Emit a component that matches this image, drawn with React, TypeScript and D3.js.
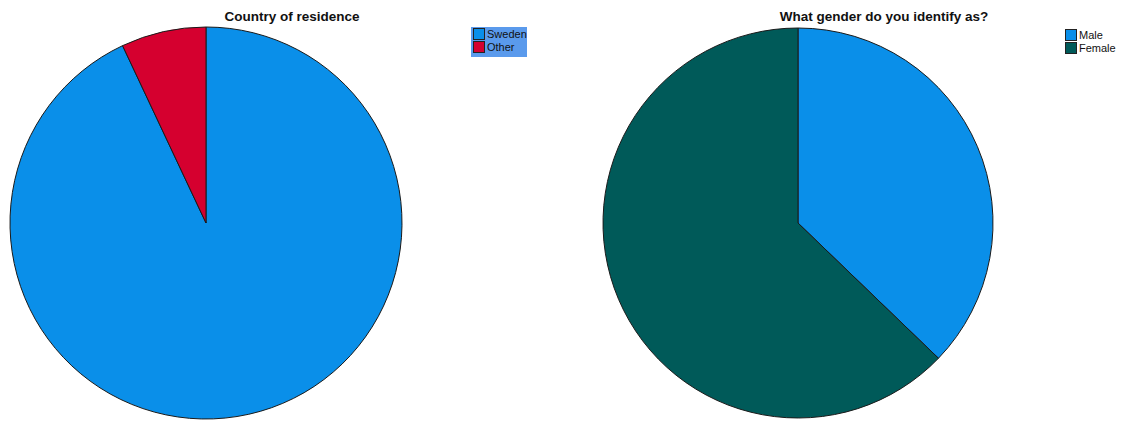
import React from "react";
import * as d3 from "d3";

const countryLabels = ["Sweden", "Other"];
const countryValues = [93, 7];
const countryColors = ["#0a8fe9", "#d5002f"];

const genderLabels = ["Male", "Female"];
const genderValues = [37.2, 62.8];
const genderColors = ["#0a8fe9", "#005a59"];

type PieProps = {
  cx: number; cy: number; r: number; title: string; titleX: number;
  labels: string[]; values: number[]; colors: string[];
  legendX: number; legendY: number; legendBg?: string; legendW?: number;
};

function Pie({ cx, cy, r, title, titleX, labels, values, colors, legendX, legendY, legendBg, legendW }: PieProps) {
  const pie = d3.pie<number>().sort(null).value((d) => d);
  const arc = d3.arc<d3.PieArcDatum<number>>().innerRadius(0).outerRadius(r);
  const arcs = pie(values);
  return (
    <g>
      <text x={titleX} y={21} textAnchor="middle" fontFamily="'Liberation Sans', Arial, sans-serif" fontWeight="bold" fontSize={13.5} fill="#111">{title}</text>
      <g transform={`translate(${cx},${cy})`}>
        {arcs.map((a, i) => (
          <path key={i} d={arc(a) || ""} fill={colors[i]} stroke="#1a1a1a" strokeWidth={1} strokeLinejoin="round" />
        ))}
      </g>
      <g transform={`translate(${legendX},${legendY})`}>
        {legendBg && <rect x={-2} y={-1} width={legendW} height={30} fill={legendBg} />}
        {labels.map((l, i) => (
          <g key={l} transform={`translate(0,${i * 13})`}>
            <rect x={0.5} y={0.5} width={11} height={11} fill={colors[i]} stroke="#222" strokeWidth={1} />
            <text x={14} y={10} fontFamily="'Liberation Sans', Arial, sans-serif" fontSize={11} fill="#111">{l}</text>
          </g>
        ))}
      </g>
    </g>
  );
}

export default function App() {
  return (
    <svg width={1123} height={421} style={{ position: "absolute", left: 0, top: 0, background: "#fff" }}>
      <Pie cx={206} cy={223} r={196} title="Country of residence" titleX={292} labels={countryLabels} values={countryValues} colors={countryColors} legendX={473} legendY={28} legendBg="#5a9aec" legendW={56} />
      <Pie cx={798} cy={223} r={195} title="What gender do you identify as?" titleX={884} labels={genderLabels} values={genderValues} colors={genderColors} legendX={1065} legendY={29} />
    </svg>
  );
}
